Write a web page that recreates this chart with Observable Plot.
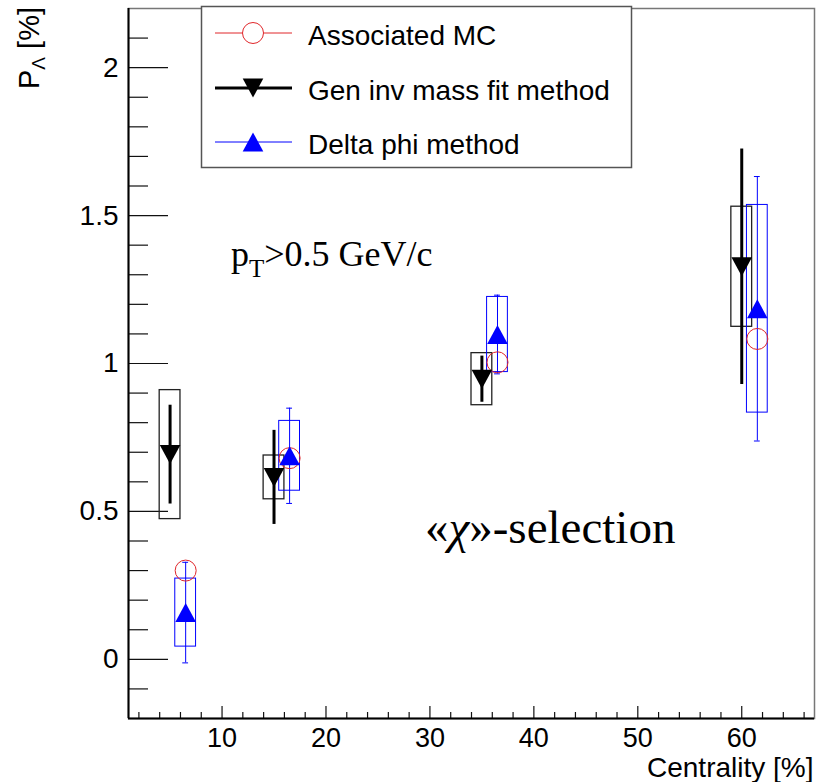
<!DOCTYPE html>
<html>
<head>
<meta charset="utf-8">
<script src="https://cdn.jsdelivr.net/npm/d3@7"></script>
<script src="https://cdn.jsdelivr.net/npm/@observablehq/plot@0.6"></script>
<style>
  html, body { margin: 0; padding: 0; background: white; }
  #chart { width: 817px; height: 782px; }
</style>
</head>
<body>
<div id="chart"></div>
<script>
// ---- data ----
const centGen = [5, 15, 35, 60];
const pGen    = [0.692, 0.615, 0.947, 1.327];
const statGen = [0.167, 0.159, 0.078, 0.398];
const sysGen  = [0.218, 0.074, 0.088, 0.203];

const centDphi = [6.5, 16.5, 36.5, 61.5];
const pDphi    = [0.158, 0.688, 1.098, 1.185];
const statDphi = [0.170, 0.161, 0.133, 0.447];
const sysDphi  = [0.115, 0.118, 0.127, 0.351];

const centMC = [6.5, 16.5, 36.5, 61.5];
const pMC    = [0.300, 0.680, 1.004, 1.083];

const xDomain = [1, 67];
const yDomain = [-0.2, 2.2];
const xMajor = [10, 20, 30, 40, 50, 60];
const xMinor = d3.range(2, 67, 2).filter(v => v % 10 !== 0);
const yMajor = [0, 0.5, 1, 1.5, 2];
const yMinor = d3.range(-1, 22).map(v => v / 10).filter(v => Math.abs(v * 2 - Math.round(v * 2)) > 1e-9);

const legendLabels = ["Associated MC", "Gen inv mass fit method", "Delta phi method"];

// ---- rows ----
const genRows  = centGen.map((c, i) => ({c, p: pGen[i], stat: statGen[i], sys: sysGen[i]}));
const dphiRows = centDphi.map((c, i) => ({c, p: pDphi[i], stat: statDphi[i], sys: sysDphi[i]}));
const mcRows   = centMC.map((c, i) => ({c, p: pMC[i]}));

// ---- custom ROOT-like markers ----
const triUp = {draw(ctx, size) { const r = Math.sqrt(size / Math.PI);
  ctx.moveTo(0, -0.95 * r); ctx.lineTo(1.03 * r, 0.95 * r); ctx.lineTo(-1.03 * r, 0.95 * r); ctx.closePath(); }};
const triDown = {draw(ctx, size) { const r = Math.sqrt(size / Math.PI);
  ctx.moveTo(0, 0.95 * r); ctx.lineTo(1.03 * r, -0.95 * r); ctx.lineTo(-1.03 * r, -0.95 * r); ctx.closePath(); }};

const W = 817, H = 782, mL = 128, mR = 3, mT = 8, mB = 64;
const plotW = W - mL - mR, plotH = H - mT - mB;
const BLUE = "#0000ff", RED = "#e0262a";
const boxHalf = 1, capHalf = 0.28;

const plot = Plot.plot({
  width: W, height: H,
  marginLeft: mL, marginRight: mR, marginTop: mT, marginBottom: mB,
  x: {domain: xDomain, axis: null},
  y: {domain: yDomain, axis: null},
  style: {fontFamily: "'Liberation Sans', Arial, sans-serif", background: "white", color: "black"},
  marks: [
    Plot.frame({stroke: "#777", strokeWidth: 1.5}),
    // ticks (inward, ROOT style)
    Plot.ruleY(yMajor, {y: d => d, insetRight: plotW - 40, stroke: "#111", strokeWidth: 1.2}),
    Plot.ruleY(yMinor, {y: d => d, insetRight: plotW - 20, stroke: "#111", strokeWidth: 1.2}),
    Plot.ruleX(xMajor, {x: d => d, insetTop: plotH - 12, stroke: "#111", strokeWidth: 1.2}),
    Plot.ruleX(xMinor, {x: d => d, insetTop: plotH - 6, stroke: "#111", strokeWidth: 1.2}),
    // axis lines
    Plot.ruleX([xDomain[0]], {stroke: "black", strokeWidth: 2}),
    Plot.ruleY([yDomain[0]], {stroke: "black", strokeWidth: 2}),
    // tick labels
    Plot.text(yMajor, {y: d => d, text: d => String(d), frameAnchor: "left", dx: -10, textAnchor: "end",
      lineAnchor: "middle", fontSize: 28, fill: "black"}),
    Plot.text(xMajor, {x: d => d, text: d => String(d), frameAnchor: "bottom", dy: 9, textAnchor: "middle",
      lineAnchor: "top", fontSize: 27, fill: "black"}),
    Plot.text(["Centrality [%]"], {frameAnchor: "bottom-right", dx: -1, dy: 58, textAnchor: "end",
      lineAnchor: "bottom", fontSize: 28, fill: "black"}),
    // systematic boxes
    Plot.rect(genRows, {x1: d => d.c - boxHalf, x2: d => d.c + boxHalf, y1: d => d.p - d.sys, y2: d => d.p + d.sys,
      fill: "none", stroke: "#222", strokeWidth: 1.3}),
    Plot.rect(dphiRows, {x1: d => d.c - boxHalf, x2: d => d.c + boxHalf, y1: d => d.p - d.sys, y2: d => d.p + d.sys,
      fill: "none", stroke: BLUE, strokeWidth: 1}),
    // statistical errors
    Plot.ruleX(genRows, {x: "c", y1: d => d.p - d.stat, y2: d => d.p + d.stat, stroke: "black", strokeWidth: 3}),
    Plot.ruleX(dphiRows, {x: "c", y1: d => d.p - d.stat, y2: d => d.p + d.stat, stroke: BLUE, strokeWidth: 1}),
    Plot.ruleY(dphiRows, {y: d => d.p + d.stat, x1: d => d.c - capHalf, x2: d => d.c + capHalf, stroke: BLUE, strokeWidth: 1}),
    Plot.ruleY(dphiRows, {y: d => d.p - d.stat, x1: d => d.c - capHalf, x2: d => d.c + capHalf, stroke: BLUE, strokeWidth: 1}),
    // markers
    Plot.dot(mcRows, {x: "c", y: "p", r: 10.5, fill: "none", stroke: RED, strokeWidth: 1}),
    Plot.dot(genRows, {x: "c", y: "p", r: 10, symbol: triDown, fill: "black", stroke: "none"}),
    Plot.dot(dphiRows, {x: "c", y: "p", r: 10, symbol: triUp, fill: BLUE, stroke: "none"})
  ]
});

document.getElementById("chart").appendChild(plot);

// ---- annotations, y title and legend drawn into the same SVG ----
const svg = d3.select(plot);
const sans = "'Liberation Sans', Arial, sans-serif";
const serif = "'Liberation Serif', 'Times New Roman', serif";

// y-axis title
const yt = svg.append("text")
  .attr("transform", "translate(39,7) rotate(-90)")
  .attr("text-anchor", "end")
  .attr("font-family", sans).attr("font-size", 29).attr("fill", "black");
yt.append("tspan").text("P");
yt.append("tspan").attr("font-size", 19).attr("dy", 6).text("Λ");
yt.append("tspan").attr("dy", -6).text(" [%]");

// pT annotation
const pt = svg.append("text").attr("x", 231).attr("y", 266).attr("text-anchor", "start")
  .attr("font-family", serif).attr("font-size", 36).attr("fill", "black");
pt.append("tspan").text("p");
pt.append("tspan").attr("font-size", 25).attr("dy", 11).text("T");
pt.append("tspan").attr("dy", -11).text(">0.5 GeV/c");

// chi selection annotation
const ch = svg.append("text").attr("x", 425).attr("y", 543).attr("text-anchor", "start")
  .attr("font-family", serif).attr("font-size", 47).attr("fill", "black");
ch.append("tspan").text("«");
ch.append("tspan").attr("font-style", "italic").text("χ");
ch.append("tspan").text("»-selection");

// legend
const lg = svg.append("g");
lg.append("rect").attr("x", 201.5).attr("y", 6.5).attr("width", 430).attr("height", 161)
  .attr("fill", "white").attr("stroke", "#555").attr("stroke-width", 1.5);
const rowsY = [33, 88, 142];
const sym = (s) => d3.symbol(s, 10 * 10 * Math.PI)();
// row 1: MC
lg.append("line").attr("x1", 215).attr("x2", 292).attr("y1", rowsY[0]).attr("y2", rowsY[0])
  .attr("stroke", RED).attr("stroke-width", 1);
lg.append("circle").attr("cx", 253).attr("cy", rowsY[0]).attr("r", 10.5)
  .attr("fill", "white").attr("stroke", RED).attr("stroke-width", 1);
// row 2: Gen
lg.append("line").attr("x1", 215).attr("x2", 292).attr("y1", rowsY[1]).attr("y2", rowsY[1])
  .attr("stroke", "black").attr("stroke-width", 3);
lg.append("path").attr("d", sym(triDown)).attr("transform", `translate(253,${rowsY[1]})`).attr("fill", "black");
// row 3: Dphi
lg.append("line").attr("x1", 215).attr("x2", 292).attr("y1", rowsY[2]).attr("y2", rowsY[2])
  .attr("stroke", BLUE).attr("stroke-width", 1);
lg.append("path").attr("d", sym(triUp)).attr("transform", `translate(253,${rowsY[2]})`).attr("fill", BLUE);
legendLabels.forEach((t, i) => {
  lg.append("text").attr("x", 308).attr("y", rowsY[i] + 12).attr("text-anchor", "start")
    .attr("font-family", sans).attr("font-size", 28).attr("fill", "black").text(t);
});
</script>
</body>
</html>
